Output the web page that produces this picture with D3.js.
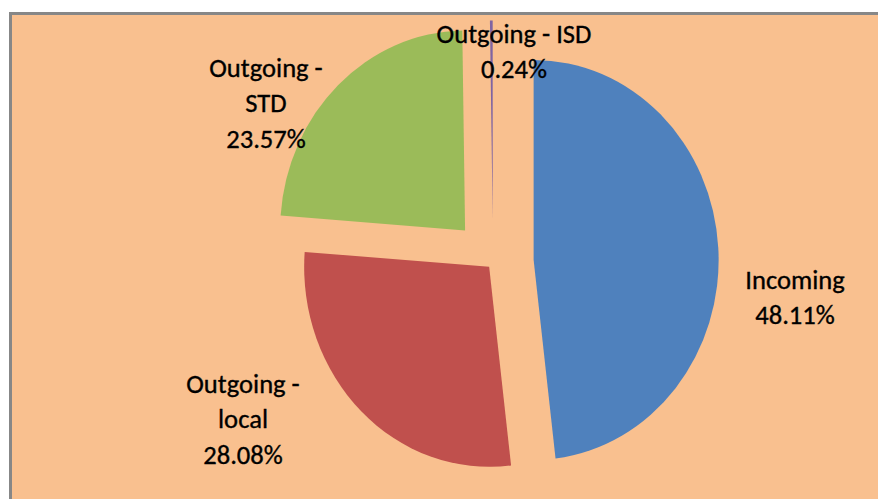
<!DOCTYPE html>
<html>
<head>
<meta charset="utf-8">
<script src="https://cdn.jsdelivr.net/npm/d3@7"></script>
<style>
  html, body { margin: 0; padding: 0; background: #ffffff; }
  svg { display: block; }
</style>
</head>
<body>
<svg id="chart" width="878" height="499"></svg>
<script>
// Share of call minutes by call type (percent)
const categories = ["Incoming", "Outgoing - local", "Outgoing - STD", "Outgoing - ISD"];
const shares = [48.11, 28.08, 23.57, 0.24];
// Wrapped label lines for each category
const labelLines = [["Incoming"], ["Outgoing -", "local"], ["Outgoing -", "STD"], ["Outgoing - ISD"]];
const colors = ["#4F81BD", "#C0504D", "#9BBB59", "#8064A2"];

// Layout
const W = 878, H = 499;
const center = { x: 493, y: 262.5 };
const radius = 200;
const squeeze = 0.925;            // horizontal aspect of the pie
const textSqueeze = 0.985;        // horizontal aspect of label text
const explode = [44, 6, 44, 42];  // per-slice pull-out distance
const labelPos = [                // label centre x and first baseline y
  { x: 795, y: 289 },
  { x: 243, y: 393 },
  { x: 266, y: 77 },
  { x: 514, y: 43 }
];
const lineStep = 35.5;

const svg = d3.select("#chart");

// Plot area
svg.append("rect")
  .attr("x", 10.5).attr("y", 13.5)
  .attr("width", W + 20).attr("height", H + 20)
  .attr("fill", "#F9C08F")
  .attr("stroke", "#878787")
  .attr("stroke-width", 3);

const data = categories.map((c, i) => ({ category: c, value: shares[i], i }));

const pie = d3.pie().sort(null).value(d => d.value).startAngle(0).endAngle(2 * Math.PI);
const arc = d3.arc().innerRadius(0).outerRadius(radius);

const g = svg.append("g")
  .attr("transform", `translate(${center.x},${center.y}) scale(${squeeze},1)`);

g.selectAll("path.slice")
  .data(pie(data))
  .join("path")
  .attr("class", "slice")
  .attr("d", arc)
  .attr("fill", d => colors[d.data.i])
  .attr("transform", d => {
    const mid = (d.startAngle + d.endAngle) / 2;
    const e = explode[d.data.i];
    return `translate(${e * Math.sin(mid)},${-e * Math.cos(mid)})`;
  });

// Data labels: category and percentage
const fmt = d3.format(".2f");
const labels = svg.selectAll("g.label")
  .data(data)
  .join("g")
  .attr("class", "label")
  .attr("transform", d => `translate(${labelPos[d.i].x},${labelPos[d.i].y}) scale(${textSqueeze},1)`);

labels.each(function(d) {
  const lines = labelLines[d.i].concat([fmt(d.value) + "%"]);
  d3.select(this).selectAll("text")
    .data(lines)
    .join("text")
    .attr("x", 0)
    .attr("y", (t, k) => k * lineStep)
    .attr("text-anchor", "middle")
    .attr("font-family", "Carlito, Calibri, Lato, sans-serif")
    .attr("font-size", 27)
    .attr("fill", "#000")
    .attr("stroke", "#000")
    .attr("stroke-width", 0.35)
    .text(t => t);
});
</script>
</body>
</html>
